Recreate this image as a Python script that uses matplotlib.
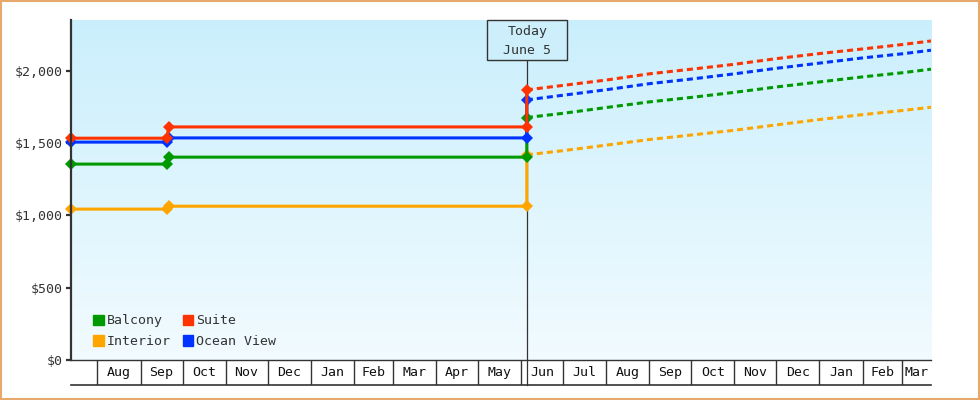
import matplotlib
matplotlib.use("Agg")
import matplotlib.pyplot as plt
import matplotlib.dates as mdates
from matplotlib.patches import Rectangle, Patch
from matplotlib.colors import LinearSegmentedColormap
import numpy as np
import pandas as pd
from datetime import datetime

# price history (solid part), last point is the jump at "today"
hist_dates = [datetime(2021, 7, 13), datetime(2021, 9, 20), datetime(2021, 9, 21),
              datetime(2022, 6, 5), datetime(2022, 6, 5)]
balcony_hist = [1354, 1354, 1402, 1402, 1676]
interior_hist = [1043, 1043, 1063, 1063, 1418]
suite_hist = [1533, 1533, 1611, 1611, 1867]
ocean_hist = [1506, 1506, 1535, 1535, 1798]

# forecast (dashed part)
fc_dates = [datetime(2022, 6, 5), datetime(2022, 7, 1), datetime(2022, 8, 1), datetime(2022, 9, 1),
            datetime(2022, 10, 1), datetime(2022, 11, 1), datetime(2022, 12, 1), datetime(2023, 1, 1),
            datetime(2023, 2, 1), datetime(2023, 3, 1), datetime(2023, 3, 22)]
balcony_fc = [1676, 1705, 1745, 1784, 1815, 1850, 1887, 1922, 1957, 1985, 2010]
interior_fc = [1418, 1447, 1485, 1524, 1555, 1588, 1625, 1662, 1696, 1724, 1747]
suite_fc = [1867, 1898, 1935, 1978, 2010, 2044, 2083, 2118, 2150, 2180, 2205]
ocean_fc = [1798, 1830, 1868, 1910, 1942, 1978, 2016, 2052, 2088, 2116, 2141]

today = datetime(2022, 6, 5, 10)
today_text = ["Today", "June 5"]

month_labels = ["", "Aug", "Sep", "Oct", "Nov", "Dec", "Jan", "Feb", "Mar", "Apr", "May",
                "Jun", "Jul", "Aug", "Sep", "Oct", "Nov", "Dec", "Jan", "Feb", "Mar"]
y_ticks = [0, 500, 1000, 1500, 2000]

c_balcony = "#009900"
c_interior = "#ffa500"
c_suite = "#ff3300"
c_ocean = "#0033ff"
dark = "#333333"
font = ["DejaVu Sans Mono"]
fs = 9.5

plt.rcParams["font.family"] = font

fig = plt.figure(figsize=(9.8, 4.0), dpi=100)
W, H = 980, 400
L, R, T, B = 71, 931, 20, 360
ax = fig.add_axes([L / W, 1 - B / H, (R - L) / W, (B - T) / H])

xmin, xmax = mdates.date2num(hist_dates[0]), mdates.date2num(fc_dates[-1])
ymax = 2350
ax.set_xlim(xmin, xmax)
ax.set_ylim(0, ymax)

# gradient background
cmap = LinearSegmentedColormap.from_list("bg", ["#f2fbff", "#caeffc"])
grad = np.linspace(0, 1, 256).reshape(-1, 1)
ax.imshow(grad, extent=[0, 1, 0, 1], transform=ax.transAxes, origin="lower",
          aspect="auto", cmap=cmap, zorder=0)

series = [
    ("Interior", interior_hist, interior_fc, c_interior),
    ("Balcony", balcony_hist, balcony_fc, c_balcony),
    ("Ocean View", ocean_hist, ocean_fc, c_ocean),
    ("Suite", suite_hist, suite_fc, c_suite),
]
for i, (name, hv, fv, col) in enumerate(series):
    ax.plot(fc_dates, fv, color=col, lw=2.2, linestyle=(0, (2, 1.3)),
            dash_capstyle="butt", zorder=3 + i)
    ax.plot(hist_dates, hv, color=col, lw=2.2, marker="D", markersize=6.3,
            markeredgewidth=0, clip_on=False, zorder=7 + i)

# today marker
tx = (mdates.date2num(today) - xmin) / (xmax - xmin)
box_h = 40 / (B - T)
box_w = 80 / (R - L)
ax.add_patch(Rectangle((tx - box_w / 2, 1 - box_h), box_w, box_h, transform=ax.transAxes,
                       facecolor="#cdeffc", edgecolor=dark, lw=1, zorder=20, clip_on=False))
ax.text(tx, 1 - 12 / (B - T), today_text[0], transform=ax.transAxes, ha="center", va="center",
        fontsize=fs, color=dark, zorder=21)
ax.text(tx, 1 - 30 / (B - T), today_text[1], transform=ax.transAxes, ha="center", va="center",
        fontsize=fs, color=dark, zorder=21)
ax.plot([tx, tx], [1 - box_h, -25 / (B - T)], transform=ax.transAxes, color=dark, lw=0.9,
        clip_on=False, zorder=2)

# axes styling
for s in ["top", "right"]:
    ax.spines[s].set_visible(False)
ax.spines["left"].set_color(dark)
ax.spines["left"].set_linewidth(1.6)
ax.spines["bottom"].set_color(dark)
ax.spines["bottom"].set_linewidth(1.0)
ax.spines["left"].set_zorder(15)
ax.set_yticks(y_ticks)
ax.set_yticklabels(["$" + format(v, ",") for v in y_ticks])
ax.tick_params(axis="y", length=3.8, width=1.6, color=dark, pad=2.5, labelsize=fs, labelcolor=dark)
ax.set_xticks([])

# legend
handles = [Patch(color=c_balcony, label="Balcony"), Patch(color=c_interior, label="Interior"),
           Patch(color=c_suite, label="Suite"), Patch(color=c_ocean, label="Ocean View")]
ax.legend(handles=handles, ncol=2, loc="lower left", bbox_to_anchor=(0.012, 0.0), frameon=False,
          fontsize=fs, handlelength=0.8, handleheight=0.8, handletextpad=0.2,
          columnspacing=0.95, labelspacing=0.58, labelcolor=dark)

# month cells below the plot
ax2 = fig.add_axes([L / W, 1 - 385 / H, (R - L) / W, 25 / H])
ax2.set_facecolor("none")
ax2.set_xlim(xmin, xmax)
ax2.set_ylim(0, 1)
for s in ["top", "right", "left"]:
    ax2.spines[s].set_visible(False)
ax2.spines["bottom"].set_color(dark)
ax2.spines["bottom"].set_linewidth(1.2)
ax2.set_xticks([])
ax2.set_yticks([])
starts = mdates.date2num(pd.date_range("2021-08-01", "2023-03-01", freq="MS").to_pydatetime())
bounds = np.concatenate([[xmin], starts, [xmax]])
for s in starts:
    ax2.axvline(s, color=dark, lw=1.0)
for a, b, lab in zip(bounds[:-1], bounds[1:], month_labels):
    ax2.text((a + b) / 2, 0.5, lab, ha="center", va="center", fontsize=fs, color="#111111")

# outer border
fig.patches.append(Rectangle((0.001, 0.0015), 0.998, 0.997, transform=fig.transFigure,
                             fill=False, edgecolor="#e6a96b", lw=1.5))

fig.savefig("out.png", dpi=100)
